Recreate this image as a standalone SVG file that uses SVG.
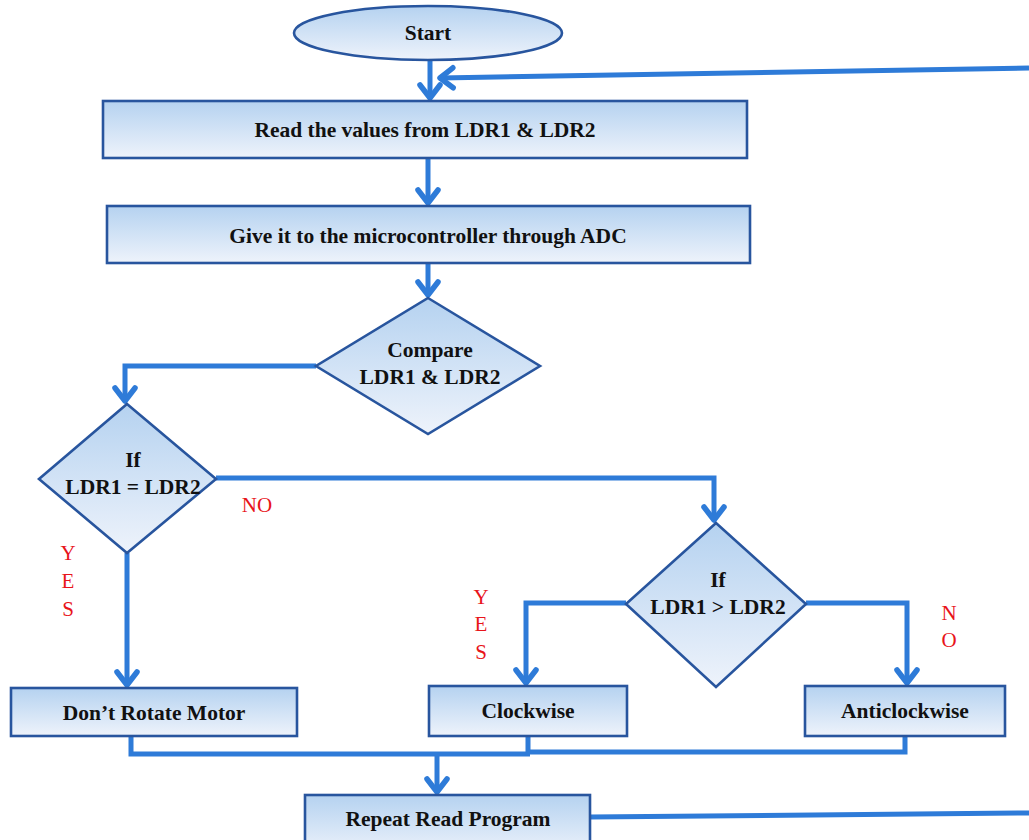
<svg xmlns="http://www.w3.org/2000/svg" width="1029" height="840" viewBox="0 0 1029 840">
<defs>
<linearGradient id="g" x1="0" y1="0" x2="0" y2="1">
<stop offset="0" stop-color="#b5d2f0"/>
<stop offset="1" stop-color="#eef3fb"/>
</linearGradient>
<marker id="ah" markerUnits="userSpaceOnUse" markerWidth="36" markerHeight="36" viewBox="-18 -18 36 36" refX="0" refY="0" orient="auto">
<path d="M-13,-10 L0,0 L-13,10" fill="none" stroke="#2e7bd8" stroke-width="5.5" stroke-linecap="round" stroke-linejoin="round"/>
</marker>
<style>
.n{fill:url(#g);stroke:#28559e;stroke-width:2.6}
.t{font-family:"Liberation Serif",serif;font-weight:bold;font-size:21.5px;fill:#111;text-anchor:middle}
.c{fill:none;stroke:#2e7bd8;stroke-width:5;stroke-linejoin:miter}
.a{marker-end:url(#ah)}
.r{font-family:"Liberation Serif",serif;font-size:21px;fill:#e8141a;text-anchor:middle}
</style>
</defs>
<g id="connectors">
<path class="c a" d="M430,61 V98"/>
<path class="c a" d="M1029,68 L440,78"/>
<path class="c a" d="M428,159 V203"/>
<path class="c a" d="M428,264 V295"/>
<path class="c a" d="M316,366 H125 V401"/>
<path class="c a" d="M216,478 H714 V520"/>
<path class="c a" d="M127,553 V685"/>
<path class="c a" d="M626,603 H526 V683"/>
<path class="c a" d="M806,603 H907 V683"/>
<path class="c" d="M131,737 V754 H530"/>
<path class="c" d="M528,737 V752 H905 V737"/>
<path class="c a" d="M437,753 V792"/>
<path class="c" d="M590,817 L1029,813"/>
</g>
<g id="start"><ellipse class="n" cx="428" cy="33" rx="134" ry="27"/><text class="t" x="428" y="40">Start</text></g>
<g id="read"><rect class="n" x="103" y="101" width="644" height="57"/><text class="t" x="425" y="137">Read the values from LDR1 &amp; LDR2</text></g>
<g id="adc"><rect class="n" x="107" y="206" width="643" height="57"/><text class="t" x="428" y="243">Give it to the microcontroller through ADC</text></g>
<g id="compare"><polygon class="n" points="428,298 540,366 428,434 316,366"/><text class="t" x="430" y="357">Compare</text><text class="t" x="430" y="384">LDR1 &amp; LDR2</text></g>
<g id="ifeq"><polygon class="n" points="127,404 216,479 127,553 39,479"/><text class="t" x="133" y="467">If</text><text class="t" x="133" y="494">LDR1 = LDR2</text></g>
<g id="ifgt"><polygon class="n" points="716,523 806,604 716,687 626,604"/><text class="t" x="718" y="587">If</text><text class="t" x="718" y="614">LDR1 &gt; LDR2</text></g>
<g id="dont"><rect class="n" x="11" y="688" width="286" height="48"/><text class="t" x="154" y="720">Don’t Rotate Motor</text></g>
<g id="cw"><rect class="n" x="429" y="686" width="198" height="50"/><text class="t" x="528" y="718">Clockwise</text></g>
<g id="acw"><rect class="n" x="805" y="686" width="200" height="50"/><text class="t" x="905" y="718">Anticlockwise</text></g>
<g id="repeat"><rect class="n" x="305" y="795" width="285" height="60"/><text class="t" x="448" y="826">Repeat Read Program</text></g>
<g id="labels">
<text class="r" x="257" y="512">NO</text>
<text class="r" x="68" y="560">Y</text><text class="r" x="68" y="588">E</text><text class="r" x="68" y="616">S</text>
<text class="r" x="481" y="604">Y</text><text class="r" x="481" y="631">E</text><text class="r" x="481" y="659">S</text>
<text class="r" x="949" y="620">N</text><text class="r" x="949" y="647">O</text>
</g>
</svg>
